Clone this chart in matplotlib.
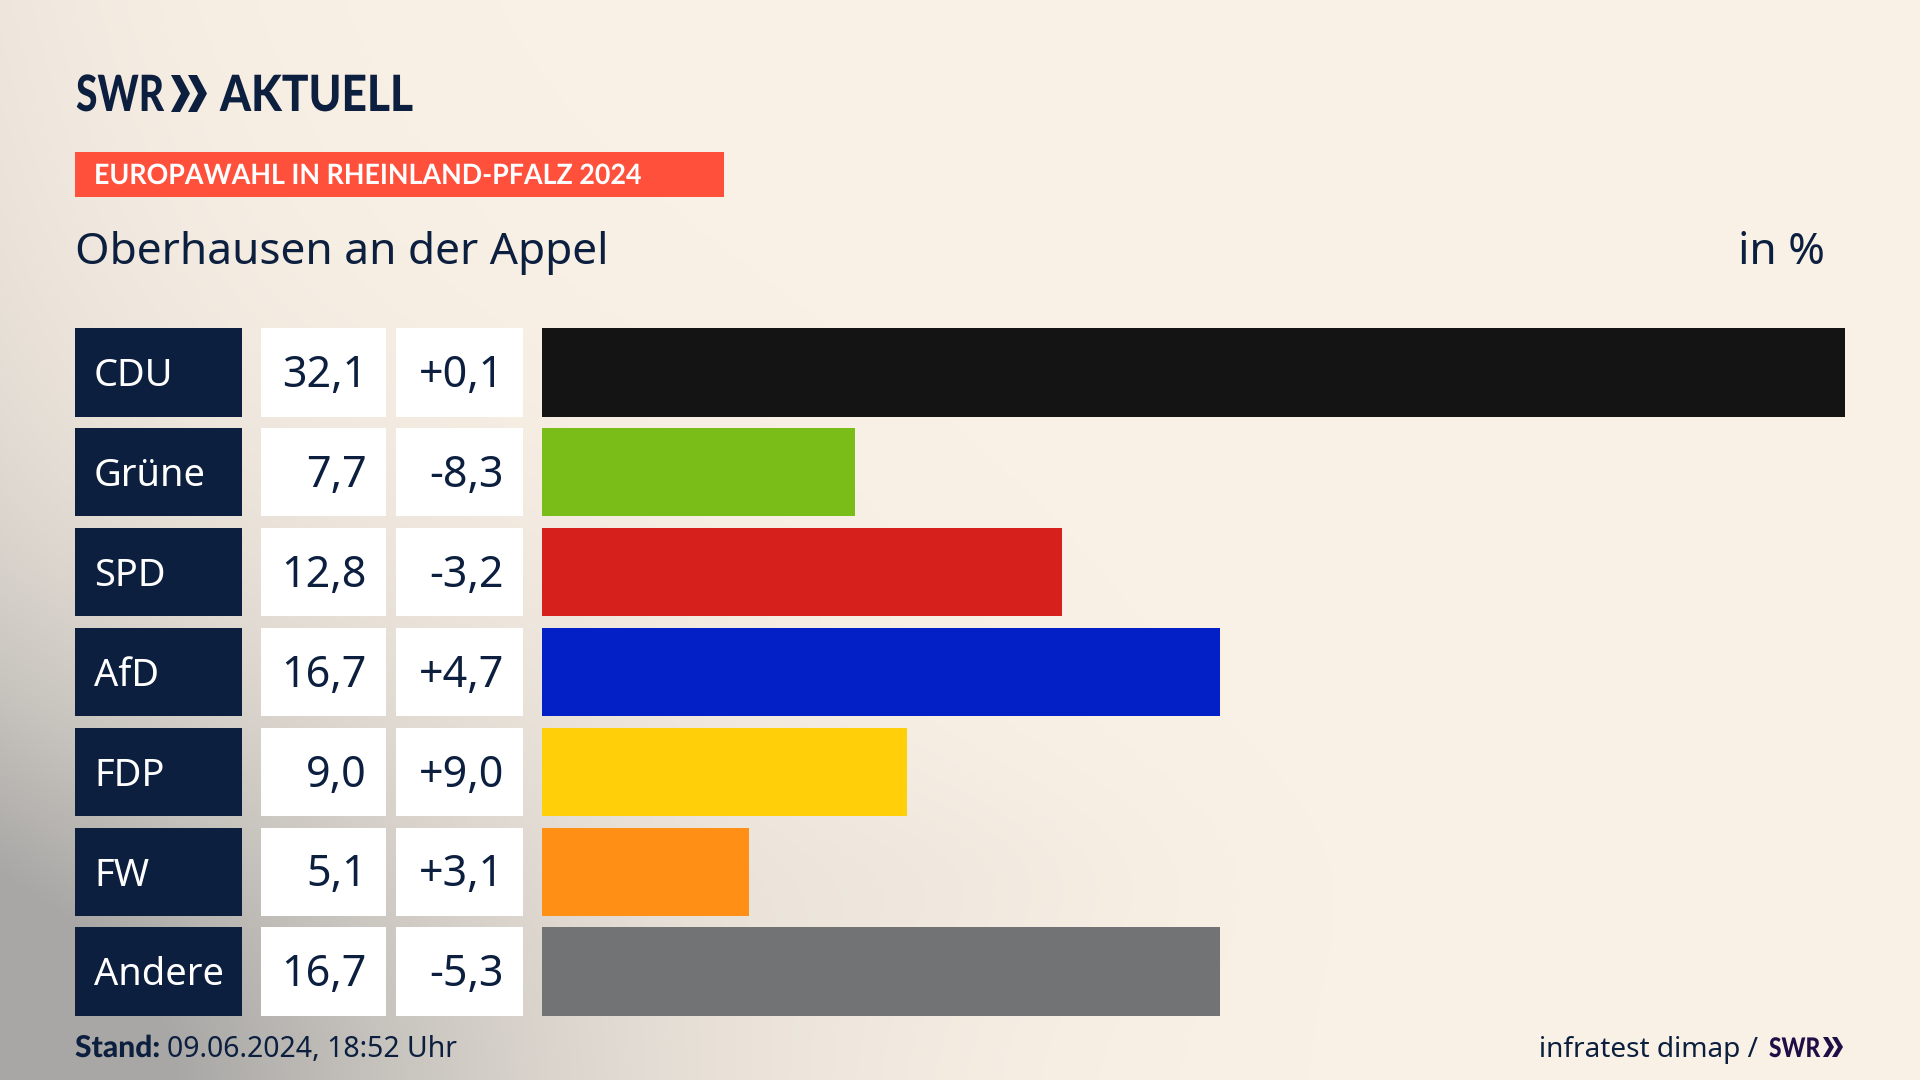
import matplotlib
matplotlib.use("Agg")
import matplotlib.pyplot as plt
import numpy as np
from matplotlib.patches import Polygon, Rectangle
from matplotlib.patheffects import AbstractPathEffect
from matplotlib.transforms import Affine2D

parties = ["CDU", "Grüne", "SPD", "AfD", "FDP", "FW", "Andere"]
shares = [32.1, 7.7, 12.8, 16.7, 9.0, 5.1, 16.7]
changes = ["+0,1", "-8,3", "-3,2", "+4,7", "+9,0", "+3,1", "-5,3"]
bar_colors = ["#141414", "#7ABD19", "#D6201C", "#0320C6", "#FFD00A", "#FF9015", "#727374"]

NAVY = "#0C1F3F"
W, H = 1920, 1080
FONT = "Noto Sans"
BOLD = "Lato"


class Squeeze(AbstractPathEffect):
    # narrows the glyphs of a left aligned text, the original font is condensed
    def __init__(self, sx):
        super().__init__()
        self.sx = sx

    def draw_path(self, renderer, gc, tpath, affine, rgbFace=None):
        renderer.draw_path(gc, tpath, Affine2D().scale(self.sx, 1) + affine, rgbFace)


def px(size):
    # font size given in pixels of em height
    return size * 0.72


def background():
    y, x = np.mgrid[0:H, 0:W]
    corner = np.exp(-np.hypot(x / 560, (H - y) / 400) ** 1.7)
    left = 0.30 * np.exp(-x / 200) * (0.5 + 0.5 * y / H)
    blob = 0.05 * np.exp(-(((x - 950) / 240) ** 2 + ((y - 880) / 110) ** 2))
    t = np.clip(corner + left + blob, 0, 1)[..., None]
    cream = np.array([251, 242, 231]) / 255
    grey = np.array([168, 167, 165]) / 255
    return cream + (grey - cream) * t


def chevrons(ax, x0, top, bottom, width, thick, gap, color):
    mid = (top + bottom) / 2
    for i in range(2):
        x = x0 + i * gap
        ax.add_patch(Polygon([(x, top), (x + thick, top), (x + width, mid),
                              (x + thick, bottom), (x, bottom), (x + width - thick, mid)],
                             closed=True, fc=color, ec="none"))


def main() -> None:
    fig = plt.figure(figsize=(W / 100, H / 100), dpi=100)

    ax = fig.add_axes([0, 0, 1, 1])
    ax.set_xlim(0, W)
    ax.set_ylim(H, 0)
    ax.axis("off")
    ax.imshow(background(), extent=(0, W, H, 0), aspect="auto", zorder=0)

    # header
    ax.text(76, 111, "SWR", family=BOLD, weight="black", fontsize=px(50), color=NAVY,
            va="baseline", path_effects=[Squeeze(0.78)])
    chevrons(ax, 171, 75, 112, 19, 9, 17, NAVY)
    ax.text(220, 111, "AKTUELL", family=BOLD, weight="black", fontsize=px(50), color=NAVY,
            va="baseline", path_effects=[Squeeze(0.885)])

    ax.add_patch(Rectangle((75, 152), 649, 45, fc="#FF503C", ec="none"))
    ax.text(94, 184, "EUROPAWAHL IN RHEINLAND-PFALZ 2024", family=BOLD, weight="bold",
            fontsize=px(28), color="white", va="baseline", path_effects=[Squeeze(0.958)])

    ax.text(75, 264, "Oberhausen an der Appel", family=FONT, fontsize=px(44.2), color=NAVY, va="baseline")
    ax.text(1825, 264, "in %", family=FONT, fontsize=px(44.2), color=NAVY, va="baseline", ha="right")

    # table cells left of the bars
    row_pitch = 99.9
    row_h = 88.5
    for i, party in enumerate(parties):
        top = 328 + i * row_pitch
        base = top + 58
        ax.add_patch(Rectangle((75, top), 167, row_h, fc=NAVY, ec="none"))
        ax.add_patch(Rectangle((261, top), 125, row_h, fc="white", ec="none"))
        ax.add_patch(Rectangle((396, top), 127, row_h, fc="white", ec="none"))
        ax.text(94, base, party, family=FONT, fontsize=px(38), color="white", va="baseline")
        ax.text(367, base + 1, f"{shares[i]:.1f}".replace(".", ","), family=FONT, fontsize=px(43),
                color=NAVY, va="baseline", ha="right")
        ax.text(504, base + 1, changes[i], family=FONT, fontsize=px(43), color=NAVY,
                va="baseline", ha="right")

    # bars
    bar_top = 328 + row_h / 2 - row_pitch / 2
    bar_ax = fig.add_axes([542 / W, 1 - (bar_top + 7 * row_pitch) / H, (1845 - 542) / W, 7 * row_pitch / H])
    bar_ax.patch.set_alpha(0)
    bar_ax.barh(np.arange(len(parties)), shares, height=row_h / row_pitch, color=bar_colors)
    bar_ax.set_xlim(0, 32.1)
    bar_ax.set_ylim(6.5, -0.5)
    bar_ax.axis("off")

    # footer
    ax.text(75, 1057, "Stand:", family=BOLD, weight="black", fontsize=px(30), color=NAVY, va="baseline",
            path_effects=[Squeeze(1.0)])
    ax.text(167, 1057, "09.06.2024, 18:52 Uhr", family=FONT, fontsize=px(28.4), color=NAVY, va="baseline")
    ax.text(1758, 1057, "infratest dimap /", family=FONT, fontsize=px(28), color=NAVY,
            va="baseline", ha="right")
    ax.text(1769, 1057, "SWR", family=BOLD, weight="black", fontsize=px(27), color="#1F0F47", va="baseline",
            path_effects=[Squeeze(0.84)])
    chevrons(ax, 1823, 1037, 1057, 11, 5, 9, "#1F0F47")

    fig.savefig("out.png", dpi=100)


if __name__ == "__main__":
    main()
